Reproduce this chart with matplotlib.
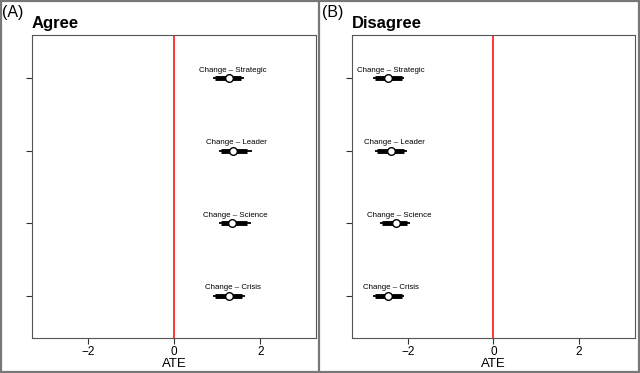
import numpy as np
import matplotlib
matplotlib.use("Agg")
import matplotlib.pyplot as plt
from matplotlib.lines import Line2D

# treatment effects (outer = thin, inner = thick)
labels = ["Change \u2013 Crisis", "Change \u2013 Science", "Change \u2013 Leader", "Change \u2013 Strategic"]
ypos = [1, 2, 3, 4]

agree_est = [1.28, 1.35, 1.37, 1.28]
agree_lo_thin = [0.91, 1.05, 1.05, 0.91]
agree_hi_thin = [1.65, 1.79, 1.81, 1.63]
agree_lo_thick = [0.95, 1.09, 1.09, 0.95]
agree_hi_thick = [1.58, 1.70, 1.70, 1.56]

disagree_est = [-2.47, -2.28, -2.40, -2.47]
disagree_lo_thin = [-2.81, -2.65, -2.77, -2.81]
disagree_hi_thin = [-2.09, -1.95, -2.02, -2.09]
disagree_lo_thick = [-2.76, -2.60, -2.72, -2.76]
disagree_hi_thick = [-2.14, -2.02, -2.09, -2.14]

xticks = [-2, 0, 2]

fig = plt.figure(figsize=(6.4, 3.73), dpi=100)
axA = fig.add_axes([0.05, 0.094, 0.444, 0.812])
axB = fig.add_axes([0.55, 0.094, 0.442, 0.812])


def panel(ax, est, lo1, hi1, lo2, hi2, title, tag, tagx):
    ax.axvline(0, color="red", lw=1.1, zorder=1)
    for i in range(len(est)):
        y = ypos[i]
        ax.plot([lo1[i], hi1[i]], [y, y], color="black", lw=1.3, solid_capstyle="butt", zorder=2)
        ax.plot([lo2[i], hi2[i]], [y, y], color="black", lw=3.5, solid_capstyle="butt", zorder=3)
        ax.plot(est[i], y, "o", ms=5.5, mfc="white", mec="black", mew=1.0, zorder=4)
        ax.text(est[i] + 0.08, y + 0.06, labels[i], ha="center", va="bottom", fontsize=5.7,
                family="Liberation Sans")
    ax.set_xlim(-3.3, 3.3)
    ax.set_ylim(0.42, 4.59)
    ax.set_xticks(xticks)
    ax.set_xticklabels([str(t).replace("-", "\u2212") for t in xticks], family="Liberation Sans", fontsize=8.5)
    ax.set_yticks(ypos)
    ax.set_yticklabels([])
    ax.tick_params(direction="out", length=4, width=0.8, color="#333333", pad=2)
    for s in ax.spines.values():
        s.set_color("#555555")
        s.set_linewidth(0.8)
    ax.set_xlabel("ATE", family="Liberation Sans", fontsize=9.5, labelpad=0)
    ax.set_title(title, loc="left", fontsize=12, fontweight="bold", family="Liberation Sans", pad=5)
    fig.text(tagx, 0.967, tag, fontsize=11.5, family="Liberation Sans", ha="left", va="center")


panel(axA, agree_est, agree_lo_thin, agree_hi_thin, agree_lo_thick, agree_hi_thick, "Agree", "(A)", 0.003)
panel(axB, disagree_est, disagree_lo_thin, disagree_hi_thin, disagree_lo_thick, disagree_hi_thick,
      "Disagree", "(B)", 0.503)

# gray frames around the two panels
gc = "#777777"
for xs, ys in [([0.002, 0.002], [0, 1]), ([0.4985, 0.4985], [0, 1]), ([0.998, 0.998], [0, 1]),
               ([0, 1], [0.003, 0.003]), ([0, 1], [0.997, 0.997])]:
    fig.add_artist(Line2D(xs, ys, transform=fig.transFigure, color=gc, lw=1.6))

fig.savefig("out.png", dpi=100)
